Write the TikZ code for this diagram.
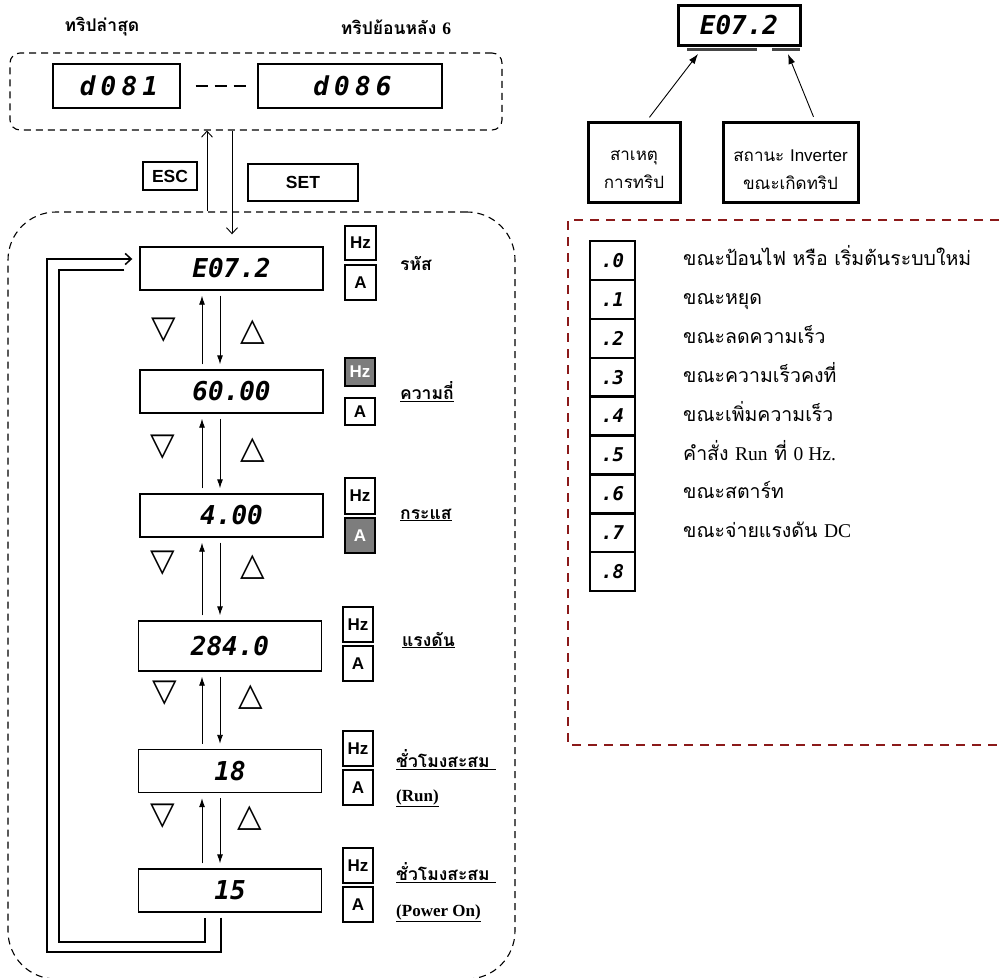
\documentclass[tikz,border=0pt]{standalone}
\usepackage{fontspec}
\setmainfont{Liberation Serif}
\setsansfont{Liberation Sans}
\newfontfamily\thai[Script=Thai]{Loma}
\newfontfamily\seg{DejaVu Sans Mono}
\newfontfamily\segw{DejaVu Sans Mono}[LetterSpace=20]
\newfontfamily\sym{DejaVu Sans}
\usetikzlibrary{arrows.meta}
\definecolor{dred}{RGB}{139,26,26}
\definecolor{ongray}{RGB}{125,125,125}
\definecolor{bargray}{RGB}{70,70,70}
\tikzset{
  disp/.style={draw, line width=1.4pt, minimum width=183pt, minimum height=43pt, inner sep=0pt,
    font=\seg\bfseries\itshape\fontsize{26}{26}\selectfont},
  unitbox/.style={draw, line width=2.2pt, minimum width=31pt, minimum height=34pt, inner sep=0pt,
    font=\sffamily\bfseries\fontsize{17}{17}\selectfont},
  uniton/.style={unitbox, fill=ongray, text=white},
  lbl/.style={anchor=west, inner sep=0pt, font=\thai\bfseries\fontsize{17.5}{20}\selectfont},
  keybox/.style={draw, line width=2.4pt, inner sep=0pt, font=\sffamily\bfseries\fontsize{17.5}{17.5}\selectfont},
  tri/.style={inner sep=0pt, font=\sym\bfseries\fontsize{32}{32}\selectfont},
  updn/.style={-{Latex[length=9pt,width=6pt]}, line width=0.9pt, shorten <=5pt, shorten >=5pt},
  openarr/.style={-{Straight Barb[length=6pt,width=11pt]}, line width=0.9pt},
  loopline/.style={line width=1.5pt},
  dbox/.style={draw, dash pattern=on 7pt off 5pt, line width=1.1pt, inner sep=0pt},
  listbox/.style={draw, line width=2.4pt, minimum width=45pt, minimum height=38.9pt, inner sep=0pt,
    font=\seg\bfseries\itshape\fontsize{19}{19}\selectfont},
  listtxt/.style={anchor=base west, inner sep=0pt, font=\thai\fontsize{19.5}{20}\selectfont},
  causebox/.style={draw, line width=3pt, inner sep=0pt, minimum height=80pt},
  causetxt/.style={inner sep=0pt, align=center, font=\thai\fontsize{17}{28}\selectfont},
}
\begin{document}
\begin{tikzpicture}[x=1pt, y=-1pt]
\useasboundingbox (0,0) rectangle (1003,977);
\fill[white] (0,0) rectangle (1003,977);

% ---------- top left group ----------
\node[lbl, anchor=center] (lt1) at (102,27) {ทริปล่าสุด};
\node[lbl, anchor=center] (lt2) at (396,27) {ทริปย้อนหลัง {\rmfamily\bfseries 6}};
\node[dbox, rounded corners=10pt, minimum width=492pt, minimum height=77pt] (top) at (256,91.5) {};
\node[disp, minimum width=127pt, minimum height=44pt, font=\segw\bfseries\itshape\fontsize{26}{26}\selectfont] (d1) at (116.5,86) {\hspace{5pt}d081};
\node[disp, minimum width=184pt, minimum height=44pt, font=\segw\bfseries\itshape\fontsize{26}{26}\selectfont] (d6) at (350,86) {\hspace{5pt}d086};
\draw[line width=1.4pt, dash pattern=on 12pt off 7pt, shorten <=15pt, shorten >=11pt] (d1) -- (d6);

\node[keybox, minimum width=54pt, minimum height=28pt] (esc) at (170,176) {ESC};
\node[keybox, minimum width=110pt, minimum height=37pt] (set) at (303,182.5) {SET};

% ---------- bottom left group ----------
\node[dbox, rounded corners=48pt, minimum width=507pt, minimum height=767pt] (bot) at (261.5,595.5) {};

\node[disp] (e1) at (231.5,268.5) {E07.2};
\node[disp] (e2) at (231.5,391.5) {60.00};
\node[disp] (e3) at (231.5,515.5) {4.00};
\node[disp, minimum height=50pt] (e4) at (230,646) {284.0};
\node[disp] (e5) at (230,771) {18};
\node[disp] (e6) at (230,890.5) {15};

\coordinate (xu) at (202,0);
\coordinate (xd) at (220,0);
\coordinate (xesc) at (207,0);
\coordinate (xset) at (232,0);

\draw[openarr] (bot.north -| xesc) -- (top.south -| xesc);
\draw[openarr, shorten >=12pt] (top.south -| xset) -- (e1.north -| xset);

\foreach \a/\b in {e1/e2,e2/e3,e3/e4,e4/e5,e5/e6}{
  \draw[updn] (\b.north -| xu) -- (\a.south -| xu);
  \draw[updn] (\a.south -| xd) -- (\b.north -| xd);
}

\node[tri] (dn1) at (164,330) {▽};
\node[tri] (up1) at (253,332) {△};
\node[tri] (dn2) at (163,447) {▽};
\node[tri] (up2) at (253,450) {△};
\node[tri] (dn3) at (163,563) {▽};
\node[tri] (up3) at (253,567) {△};
\node[tri] (dn4) at (165,693) {▽};
\node[tri] (up4) at (251,697) {△};
\node[tri] (dn5) at (163,816) {▽};
\node[tri] (up5) at (250,818) {△};

% loop back
\coordinate (lo) at (47,952);
\coordinate (li) at (59,942);
\draw[loopline, -{Straight Barb[length=6pt,width=11pt]}, shorten >=7pt]
  ([xshift=-9pt,yshift=-5pt]e6.south) |- (lo) |- ([yshift=9.5pt]e1.west);
\draw[loopline] ([xshift=-15pt,yshift=-1.5pt]e1.west) -| (li) -| ([xshift=-25pt,yshift=-5pt]e6.south);

% unit boxes
\node[unitbox] (hz1) at (360.5,243) {Hz};
\node[unitbox, minimum height=35pt] (a1) at (360.5,282.5) {A};
\node[uniton, minimum width=30pt, minimum height=28pt] (hz2) at (360,372) {Hz};
\node[unitbox, minimum width=30pt, minimum height=27pt] (a2) at (360,411.5) {A};
\node[unitbox, minimum width=30pt, minimum height=36pt] (hz3) at (360,496) {Hz};
\node[uniton, minimum width=30pt, minimum height=35pt] (a3) at (360,535.5) {A};
\node[unitbox, minimum width=30pt, minimum height=35pt] (hz4) at (358,624.5) {Hz};
\node[unitbox, minimum width=30pt, minimum height=35pt] (a4) at (358,663.5) {A};
\node[unitbox, minimum width=30pt, minimum height=35pt] (hz5) at (358,748.5) {Hz};
\node[unitbox, minimum width=30pt, minimum height=35pt] (a5) at (358,787.5) {A};
\node[unitbox, minimum width=30pt, minimum height=35pt] (hz6) at (358,865.5) {Hz};
\node[unitbox, minimum width=30pt, minimum height=35pt] (a6) at (358,904.5) {A};

% labels
\node[lbl] (l1) at (400,263) {รหัส};
\node[lbl] (l2) at (400,392) {\underline{ความถี่}};
\node[lbl] (l3) at (400,515) {\underline{กระแส}};
\node[lbl] (l4) at (402,640) {\underline{แรงดัน}};
\node[lbl] (l5) at (396,760) {\underline{ชั่วโมงสะสม\ }};
\node[lbl, font=\rmfamily\bfseries\fontsize{17}{20}\selectfont] (l5b) at (396,798) {\underline{(Run)}};
\node[lbl] (l6) at (396,873) {\underline{ชั่วโมงสะสม\ }};
\node[lbl, font=\rmfamily\bfseries\fontsize{17}{20}\selectfont] (l6b) at (396,913) {\underline{(Power On)}};

% ---------- top right ----------
\node[draw, line width=3pt, minimum width=122pt, minimum height=40pt, inner sep=0pt,
  font=\seg\bfseries\itshape\fontsize{26}{26}\selectfont] (code) at (739,25) {E07.2};
\draw[line width=3pt, bargray] (687,49.5) -- (757,49.5);
\draw[line width=3pt, bargray] (772,49.5) -- (800,49.5);
\coordinate (t1) at (698,54);
\coordinate (t2) at (788,54);
\node[causebox, minimum width=92pt] (c1) at (634,162) {};
\node[causebox, minimum width=135pt] (c2) at (790.5,162) {};
\node[causetxt] (c1t) at ([yshift=-8pt]c1.center) {สาเหตุ\\การทริป};
\node[causetxt] (c2t) at ([yshift=-8pt]c2.center) {สถานะ {\sffamily Inverter}\\ขณะเกิดทริป};
\draw[-{Latex[length=10pt,width=7pt]}, line width=0.9pt, shorten <=4pt] ([xshift=13pt]c1.north) -- (t1);
\draw[-{Latex[length=10pt,width=7pt]}, line width=0.9pt, shorten <=4pt] ([xshift=24.5pt]c2.north) -- (t2);

% ---------- status list ----------
\draw[dred, line width=2.6pt, dash pattern=on 9pt off 7pt] (1015,220) -- (568,220) -- (568,745) -- (1015,745);

\foreach \i/\s/\t in {0/.0/{ขณะป้อนไฟ หรือ เริ่มต้นระบบใหม่},
                      1/.1/{ขณะหยุด},
                      2/.2/{ขณะลดความเร็ว},
                      3/.3/{ขณะความเร็วคงที่},
                      4/.4/{ขณะเพิ่มความเร็ว},
                      5/.5/{คำสั่ง {\rmfamily Run} ที่ {\rmfamily 0 Hz.}},
                      6/.6/{ขณะสตาร์ท},
                      7/.7/{ขณะจ่ายแรงดัน {\rmfamily DC}},
                      8/.8/{}}{
  \node[listbox] (s\i) at (612.5,{260.45+38.9*\i}) {\s};
  \node[listtxt] (st\i) at (683,{265.5+38.9*\i}) {\t};
}
\end{tikzpicture}
\end{document}
